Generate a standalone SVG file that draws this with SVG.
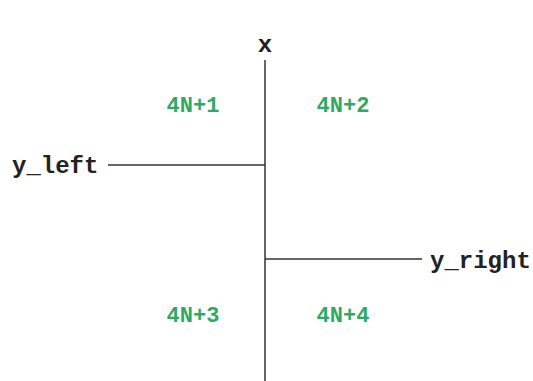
<svg xmlns="http://www.w3.org/2000/svg" width="533" height="381" viewBox="0 0 533 381">
<style>
.ax{stroke:#333;stroke-width:1.5;fill:none}
.lb{font-family:"Liberation Mono",monospace;font-weight:bold;font-size:24px;fill:#222}
.gr{font-family:"Liberation Mono",monospace;font-weight:bold;font-size:22px;fill:#2eaa66;text-anchor:middle}
</style>
<rect width="533" height="381" fill="#fff"/>
<g id="connectors">
<line class="ax" x1="265" y1="60" x2="265" y2="381"/>
<line class="ax" x1="108" y1="165" x2="265" y2="165"/>
<line class="ax" x1="265" y1="259" x2="422" y2="259"/>
</g>
<g id="x"><text class="lb" x="265" y="52" text-anchor="middle">x</text></g>
<g id="y_left"><text class="lb" x="12" y="173">y_left</text></g>
<g id="y_right"><text class="lb" x="430" y="268">y_right</text></g>
<g id="q1"><text class="gr" x="193" y="112">4N+1</text></g>
<g id="q2"><text class="gr" x="343" y="112">4N+2</text></g>
<g id="q3"><text class="gr" x="193" y="322">4N+3</text></g>
<g id="q4"><text class="gr" x="343" y="322">4N+4</text></g>
</svg>
